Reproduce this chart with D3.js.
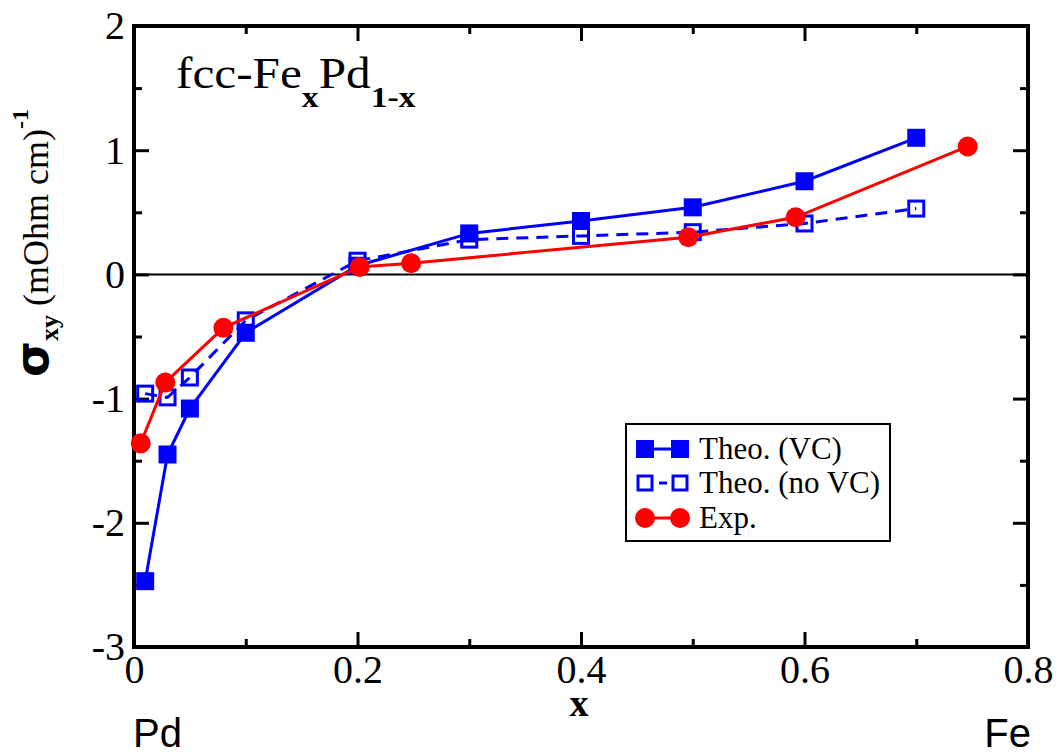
<!DOCTYPE html>
<html>
<head>
<meta charset="utf-8">
<title>sigma_xy fcc-FePd</title>
<script src="https://d3js.org/d3.v7.min.js"></script>
<style>
  body { margin: 0; background: #fff; }
</style>
</head>
<body>
<script>
// data
var xTheo = [0.01, 0.03, 0.05, 0.1, 0.2, 0.3, 0.4, 0.5, 0.6, 0.7];
var yVC   = [-2.47, -1.45, -1.08, -0.47, 0.07, 0.33, 0.43, 0.54, 0.75, 1.10];
var yNoVC = [-0.96, -0.99, -0.83, -0.37, 0.11, 0.28, 0.31, 0.34, 0.41, 0.53];
var xExp  = [0.006, 0.028, 0.08, 0.202, 0.248, 0.496, 0.592, 0.746];
var yExp  = [-1.36, -0.87, -0.43, 0.06, 0.09, 0.30, 0.46, 1.03];

var xMajor = [0, 0.2, 0.4, 0.6, 0.8];
var xMinor = [0.1, 0.3, 0.5, 0.7];
var yMajor = [-3, -2, -1, 0, 1, 2];
var yMinor = [-2.5, -1.5, -0.5, 0.5, 1.5];

var legendNames = ["Theo. (VC)", "Theo. (no VC)", "Exp."];

var W = 1060, H = 755;
var pl = 134, pr = 1028, pt = 26, pb = 647;

var svg = d3.select("body").append("svg")
    .attr("width", W)
    .attr("height", H)
    .style("font-family", "'Liberation Serif', 'Times New Roman', serif");

var x = d3.scaleLinear().domain([0, 0.8]).range([pl, pr]);
var y = d3.scaleLinear().domain([-3, 2]).range([pb, pt]);

// plain hyphen minus, like the original plot
function fmt(d) { return String(d); }

// ticks on all four sides, pointing inward
svg.append("g").attr("transform", "translate(0," + pb + ")")
    .call(d3.axisBottom(x).tickValues(xMajor).tickSizeInner(-15).tickSizeOuter(0).tickPadding(8).tickFormat(fmt));
svg.append("g").attr("transform", "translate(0," + pb + ")")
    .call(d3.axisBottom(x).tickValues(xMinor).tickSizeInner(-8).tickSizeOuter(0).tickFormat(""));
svg.append("g").attr("transform", "translate(0," + pt + ")")
    .call(d3.axisTop(x).tickValues(xMajor).tickSizeInner(-15).tickSizeOuter(0).tickFormat(""));
svg.append("g").attr("transform", "translate(0," + pt + ")")
    .call(d3.axisTop(x).tickValues(xMinor).tickSizeInner(-8).tickSizeOuter(0).tickFormat(""));
svg.append("g").attr("transform", "translate(" + pl + ",0)")
    .call(d3.axisLeft(y).tickValues(yMajor).tickSizeInner(-15).tickSizeOuter(0).tickPadding(9).tickFormat(fmt));
svg.append("g").attr("transform", "translate(" + pl + ",0)")
    .call(d3.axisLeft(y).tickValues(yMinor).tickSizeInner(-8).tickSizeOuter(0).tickFormat(""));
svg.append("g").attr("transform", "translate(" + pr + ",0)")
    .call(d3.axisRight(y).tickValues(yMajor).tickSizeInner(-15).tickSizeOuter(0).tickFormat(""));
svg.append("g").attr("transform", "translate(" + pr + ",0)")
    .call(d3.axisRight(y).tickValues(yMinor).tickSizeInner(-8).tickSizeOuter(0).tickFormat(""));

svg.selectAll(".domain").remove();
svg.selectAll(".tick line").attr("stroke", "#000").attr("stroke-width", 3);
svg.selectAll(".tick text")
    .attr("font-family", "'Liberation Serif', serif")
    .attr("font-size", 40)
    .attr("fill", "#000");

// frame
svg.append("rect")
    .attr("x", pl).attr("y", pt)
    .attr("width", pr - pl).attr("height", pb - pt)
    .attr("fill", "none").attr("stroke", "#000").attr("stroke-width", 4);

// zero line
svg.append("line")
    .attr("x1", pl).attr("x2", pr)
    .attr("y1", y(0)).attr("y2", y(0))
    .attr("stroke", "#000").attr("stroke-width", 2);

var line = d3.line().x(function (d) { return x(d[0]); }).y(function (d) { return y(d[1]); });

var vc = xTheo.map(function (d, i) { return [d, yVC[i]]; });
var novc = xTheo.map(function (d, i) { return [d, yNoVC[i]]; });
var ex = xExp.map(function (d, i) { return [d, yExp[i]]; });

var blue = "#0000ff", red = "#ff0000";

// Theo. (VC)
svg.append("path").datum(vc).attr("d", line)
    .attr("fill", "none").attr("stroke", blue).attr("stroke-width", 3);
svg.selectAll(".vc").data(vc).enter().append("rect")
    .attr("x", function (d) { return x(d[0]) - 9; })
    .attr("y", function (d) { return y(d[1]) - 9; })
    .attr("width", 18).attr("height", 18)
    .attr("fill", blue);

// Theo. (no VC)
svg.append("path").datum(novc).attr("d", line)
    .attr("fill", "none").attr("stroke", blue).attr("stroke-width", 3)
    .attr("stroke-dasharray", "12,8");
svg.selectAll(".novc").data(novc).enter().append("rect")
    .attr("x", function (d) { return x(d[0]) - 7.5; })
    .attr("y", function (d) { return y(d[1]) - 7.5; })
    .attr("width", 15).attr("height", 15)
    .attr("fill", "none").attr("stroke", blue).attr("stroke-width", 3);

// Exp.
svg.append("path").datum(ex).attr("d", line)
    .attr("fill", "none").attr("stroke", red).attr("stroke-width", 3);
svg.selectAll(".ex").data(ex).enter().append("circle")
    .attr("cx", function (d) { return x(d[0]); })
    .attr("cy", function (d) { return y(d[1]); })
    .attr("r", 10)
    .attr("fill", red);

// legend
var lg = svg.append("g");
lg.append("rect")
    .attr("x", 626).attr("y", 424).attr("width", 264).attr("height", 117)
    .attr("fill", "#fff").attr("stroke", "#000").attr("stroke-width", 2);
var rowsY = [449, 483, 518];
legendNames.forEach(function (name, i) {
    var yy = rowsY[i];
    var ln = lg.append("line")
        .attr("x1", 645).attr("x2", 680).attr("y1", yy).attr("y2", yy)
        .attr("stroke", i === 2 ? red : blue).attr("stroke-width", 3);
    if (i === 1) ln.attr("stroke-dasharray", "8,6");
    [645, 680].forEach(function (cx) {
        if (i === 0) {
            lg.append("rect").attr("x", cx - 9).attr("y", yy - 9).attr("width", 18).attr("height", 18).attr("fill", blue);
        } else if (i === 1) {
            lg.append("rect").attr("x", cx - 7).attr("y", yy - 7).attr("width", 14).attr("height", 14)
                .attr("fill", "#fff").attr("stroke", blue).attr("stroke-width", 3);
        } else {
            lg.append("circle").attr("cx", cx).attr("cy", yy).attr("r", 10).attr("fill", red);
        }
    });
    lg.append("text")
        .attr("x", 699).attr("y", yy + 10)
        .attr("font-size", 31)
        .text(name);
});

// title inside plot (slightly stretched sideways like the original)
var t = svg.append("text")
    .attr("transform", "translate(176,88) scale(1.12,1)")
    .attr("font-size", 44);
t.append("tspan").text("fcc-Fe");
t.append("tspan").attr("font-size", 30).attr("font-weight", "bold").attr("dy", 19).text("x");
t.append("tspan").attr("dy", -19).text("Pd");
t.append("tspan").attr("font-size", 30).attr("font-weight", "bold").attr("dy", 19).text("1-x");

// y label
var yl = svg.append("text")
    .attr("transform", "translate(48,243) rotate(-90)")
    .attr("text-anchor", "middle")
    .attr("font-size", 36);
yl.append("tspan").attr("font-size", 46).attr("font-weight", "bold")
    .attr("font-family", "'DejaVu Sans', sans-serif").text("\u03c3");
yl.append("tspan").attr("font-size", 26).attr("font-weight", "bold").attr("dy", 10).text("xy");
yl.append("tspan").attr("dy", -10).text(" (mOhm cm)");
yl.append("tspan").attr("font-size", 24).attr("font-weight", "bold").attr("dy", -20).text("-1");

// x label
svg.append("text")
    .attr("x", 579).attr("y", 716)
    .attr("text-anchor", "middle")
    .attr("font-size", 38).attr("font-weight", "bold")
    .text("x");

// end labels
svg.append("text").attr("x", 133).attr("y", 747)
    .attr("font-family", "'Liberation Sans', Arial, sans-serif").attr("font-size", 40).text("Pd");
svg.append("text").attr("x", 1031).attr("y", 747).attr("text-anchor", "end")
    .attr("font-family", "'Liberation Sans', Arial, sans-serif").attr("font-size", 40).text("Fe");
</script>
</body>
</html>
